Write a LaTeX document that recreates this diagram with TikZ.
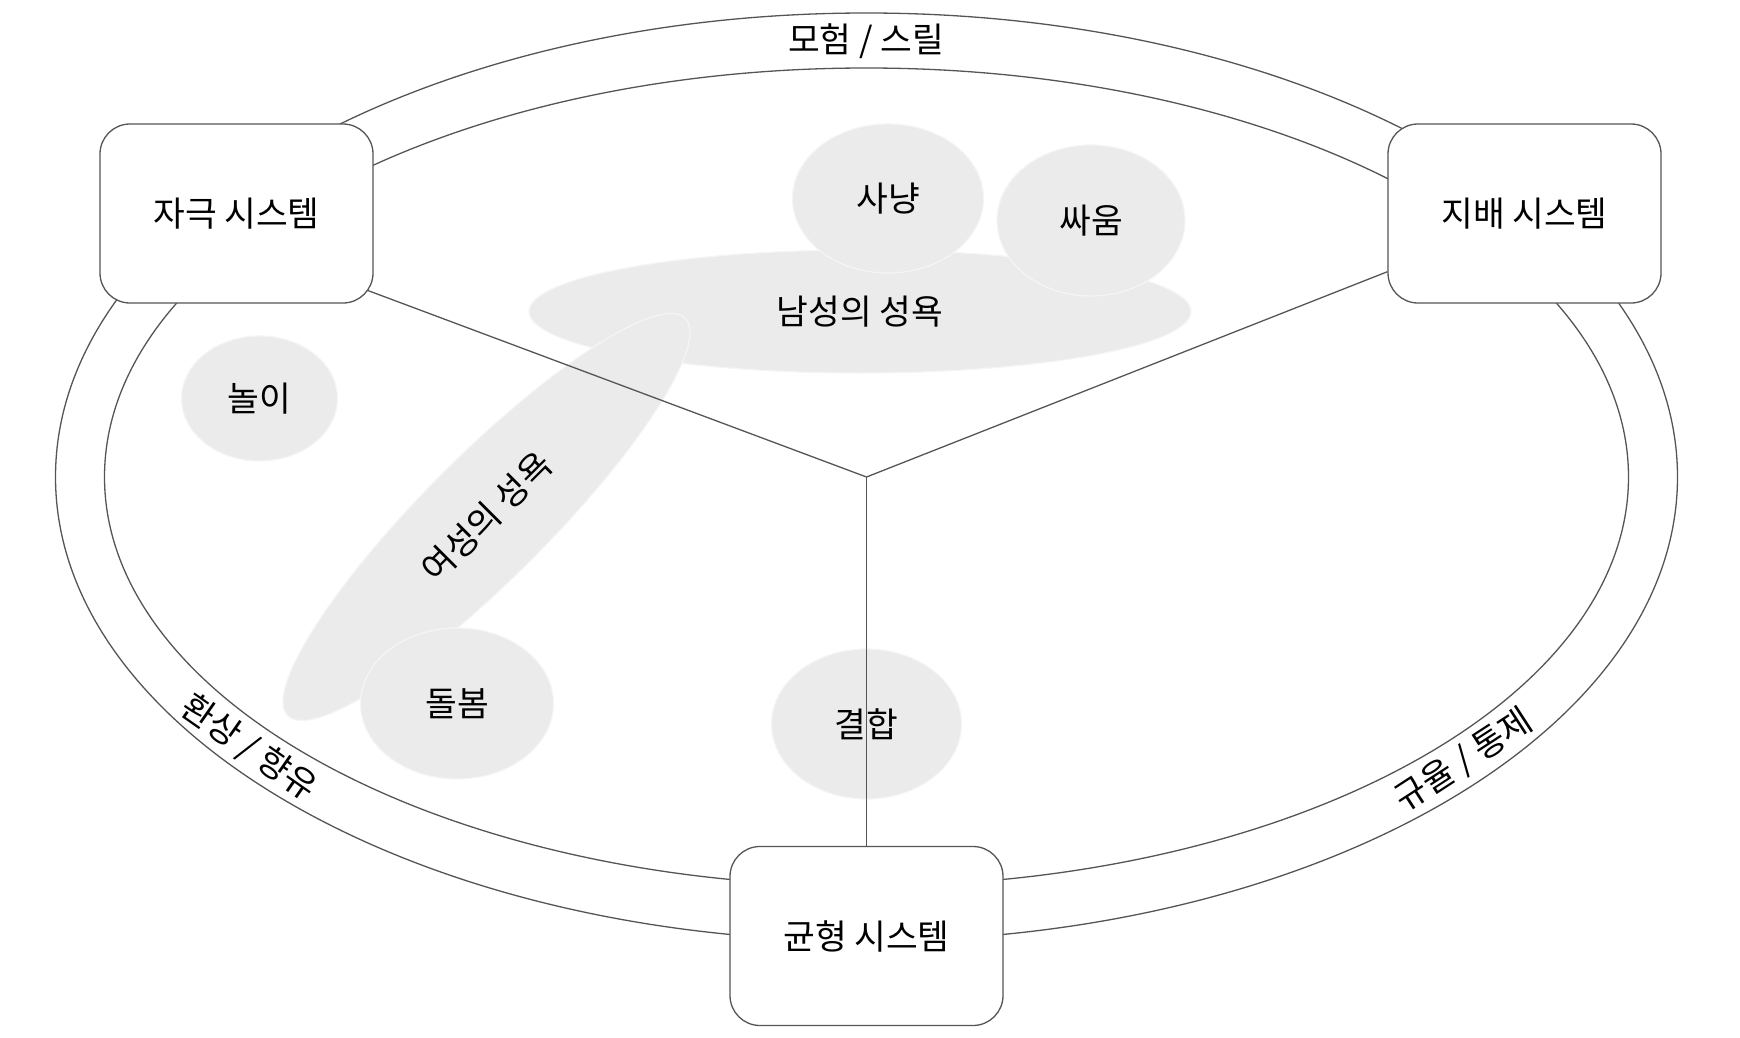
\documentclass[tikz,border=0pt]{standalone}
\usepackage{fontspec}
\setmainfont{Noto Sans CJK KR}
\usetikzlibrary{shapes.geometric,backgrounds}

\definecolor{edgegray}{HTML}{555555}
\definecolor{blobfill}{HTML}{EBEBEB}
\definecolor{blobline}{HTML}{F5F5F5}

\tikzset{
  sysbox/.style={draw=edgegray, fill=white, line width=1.3pt, rounded corners=30pt,
    minimum width=273pt, minimum height=179pt, inner sep=0pt},
  blob/.style={ellipse, fill=blobfill, draw=blobline, line width=1.2pt, inner sep=0pt},
  ring/.style={draw=edgegray, line width=1.3pt},
  spoke/.style={draw=edgegray, line width=1.3pt},
  ringlabel/.style={inner sep=0pt},
}

\begin{document}
\begin{tikzpicture}[x=1pt, y=-1pt, font=\fontsize{34.5}{40}\selectfont]
  \useasboundingbox (0,0) rectangle (1740,1038);
  % the three systems
  \node[sysbox] (stim) at (236.5,213.5) {자극 시스템};
  \node[sysbox] (dom) at (1524.5,213.5) {지배 시스템};
  \node[sysbox] (bal) at (866.5,936) {균형 시스템};
  \begin{scope}[on background layer]
    % drives
    \node[blob, minimum width=662pt, minimum height=123pt] (male) at (860,311.5) {남성의 성욕};
    \node[blob, minimum width=191pt, minimum height=149pt] (hunt) at (888,198.5) {사냥};
    \node[blob, minimum width=188pt, minimum height=151pt] (fight) at (1091,220.5) {싸움};
    \node[blob, minimum width=156pt, minimum height=125pt] (play) at (259.5,398.5) {놀이};
    \node[blob, rotate=45, minimum width=562pt, minimum height=124pt] (female) at (486.5,517) {여성의 성욕};
    \node[blob, minimum width=193pt, minimum height=151pt] (care) at (457,703.5) {돌봄};
    \node[blob, minimum width=190pt, minimum height=150pt] (bond) at (866.5,724) {결합};
    % rings
    \coordinate (hub) at (866.5,477);
    \draw[ring] (hub) ellipse [x radius=811pt, y radius=464pt];
    \draw[ring] (hub) ellipse [x radius=762pt, y radius=409pt];
    % spokes
    \draw[spoke, shorten >=-8pt] (hub) -- (stim.-30);
    \draw[spoke] (hub) -- (dom.203);
    \draw[spoke] (hub) -- (bal.north);
  \end{scope}
  % ring labels
  \node[ringlabel] (thrill) at (866,41) {모험 / 스릴};
  \node[ringlabel, rotate=-35] (fantasy) at (249,748) {환상 / 향유};
  \node[ringlabel, rotate=33] (rule) at (1464,760.5) {규율 / 통제};
\end{tikzpicture}
\end{document}
